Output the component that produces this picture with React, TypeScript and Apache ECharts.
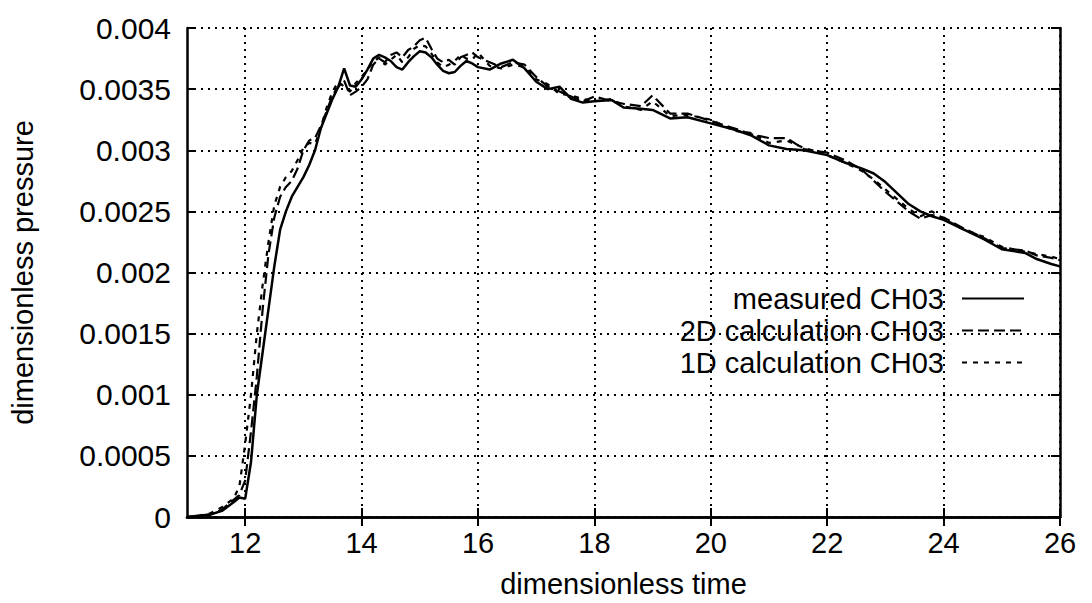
import React, { useEffect, useRef } from "react";
import * as echarts from "echarts";

const times = [
  11.0, 11.2, 11.4, 11.6, 11.8, 11.9, 12.0, 12.1, 12.2, 12.3,
  12.4, 12.5, 12.6, 12.7, 12.8, 12.9, 13.0, 13.1, 13.2, 13.3,
  13.4, 13.5, 13.6, 13.7, 13.8, 13.9, 14.0, 14.1, 14.2, 14.3,
  14.4, 14.5, 14.6, 14.7, 14.8, 14.9, 15.0, 15.1, 15.2, 15.3,
  15.4, 15.5, 15.6, 15.7, 15.8, 15.9, 16.0, 16.2, 16.4, 16.6,
  16.8, 17.0, 17.2, 17.4, 17.6, 17.8, 18.0, 18.3, 18.5, 18.8,
  19.0, 19.3, 19.6, 20.0, 20.4, 20.7, 21.0, 21.3, 21.6, 22.0,
  22.3, 22.6, 22.8, 23.0, 23.2, 23.4, 23.6, 23.8, 24.0, 24.35,
  24.7, 25.0, 25.4, 25.6, 25.85, 26.0,
];

const measured = [
  0, 0.00001, 0.00002, 0.00005, 0.00012, 0.00016, 0.00015, 0.00045, 0.001, 0.00135,
  0.0017, 0.00205, 0.00235, 0.0025, 0.00262, 0.0027, 0.00278, 0.00288, 0.003, 0.00318,
  0.0033, 0.00342, 0.00352, 0.00367, 0.00353, 0.00352, 0.00358, 0.00366, 0.00375, 0.00378,
  0.00376, 0.00373, 0.00368, 0.00366, 0.00372, 0.00377, 0.00381, 0.0038, 0.00376, 0.0037,
  0.00365, 0.00363, 0.00364, 0.00369, 0.00373, 0.00371, 0.00368, 0.00366, 0.00371, 0.00374,
  0.00367, 0.00356, 0.0035, 0.00352, 0.00342, 0.00339, 0.0034, 0.00341, 0.00335, 0.00334,
  0.00333, 0.00326, 0.00327, 0.00322, 0.00317, 0.00312, 0.00304, 0.00301, 0.003, 0.00296,
  0.0029, 0.00285, 0.00281, 0.00274, 0.00265, 0.00256, 0.0025, 0.00246, 0.00243, 0.00235,
  0.00227, 0.00219, 0.00216, 0.00211, 0.00207, 0.00205,
];

const calc2D = [
  0, 0.00001, 0.00002, 0.00006, 0.00014, 0.00018, 0.0003, 0.0007, 0.00115, 0.0017,
  0.00215, 0.00245, 0.00262, 0.0027, 0.00275, 0.00285, 0.003, 0.00308, 0.0031, 0.0032,
  0.00332, 0.00345, 0.00352, 0.00357, 0.00345, 0.00348, 0.00352, 0.00358, 0.0037, 0.00375,
  0.00372, 0.00378, 0.0038, 0.00376, 0.00382, 0.00385, 0.0039, 0.00392, 0.00383, 0.00375,
  0.00372, 0.00374, 0.0037, 0.00376, 0.00378, 0.0038, 0.00376, 0.00372, 0.00368, 0.00372,
  0.0037, 0.0036, 0.00352, 0.00348, 0.00344, 0.0034, 0.00344, 0.0034, 0.00338, 0.00336,
  0.00345, 0.0033, 0.0033, 0.00324, 0.00318, 0.00313, 0.0031, 0.0031, 0.00301, 0.00298,
  0.00292, 0.00284, 0.00275, 0.00266, 0.00258, 0.0025, 0.00244, 0.00247, 0.00245, 0.00236,
  0.00228, 0.0022, 0.00218, 0.00214, 0.00212, 0.0021,
];

const calc1D = [
  0, 0.00001, 0.00003, 0.00008, 0.00015, 0.00025, 0.0006, 0.001, 0.0015, 0.0019,
  0.00225, 0.00255, 0.0027, 0.00278, 0.00283, 0.00292, 0.00302, 0.00306, 0.00305, 0.00318,
  0.00335, 0.00348, 0.00356, 0.00352, 0.00348, 0.00355, 0.0036, 0.00366, 0.00372, 0.00376,
  0.0037, 0.00374, 0.00378, 0.00372, 0.00376, 0.00383, 0.00386, 0.00385, 0.00379, 0.00372,
  0.00368, 0.0037, 0.00373, 0.00378, 0.00375, 0.00374, 0.0038, 0.00369, 0.00367, 0.0037,
  0.00368, 0.00358, 0.00354, 0.00346, 0.00345, 0.00342, 0.0034, 0.00342, 0.00336, 0.00333,
  0.0034, 0.00328, 0.00329, 0.00325, 0.00316, 0.00314, 0.00306, 0.00308, 0.00302, 0.00296,
  0.0029, 0.00283, 0.00276, 0.00268, 0.0026, 0.00252, 0.00246, 0.0025, 0.00244, 0.00235,
  0.00229, 0.00221, 0.00217, 0.00215, 0.00213, 0.00211,
];

const xTicks = [12, 14, 16, 18, 20, 22, 24, 26];
const seriesNames = ["measured CH03", "2D calculation CH03", "1D calculation CH03"];

const FONT = "'Liberation Sans', Arial, Helvetica, sans-serif";

function pairs(vals: number[]) {
  return times.map((t, i) => [t, vals[i]]);
}

export default function App() {
  const ref = useRef<HTMLDivElement>(null);
  useEffect(() => {
    if (!ref.current) return;
    const chart = echarts.init(ref.current, undefined, { renderer: "svg" });
    const grid = { left: 177, right: 32, top: 28, bottom: 78 };
    const dotted = { color: "#000", width: 2, type: [2, 5] as any };
    const xBase = {
      type: "value" as const,
      min: 11,
      max: 26,
      interval: 1,
      axisLine: { show: true, lineStyle: { color: "#000", width: 2.5 } },
    };
    const yBase = {
      type: "value" as const,
      min: 0,
      max: 0.004,
      interval: 0.0005,
      axisLine: { show: true, lineStyle: { color: "#000", width: 2.5 } },
    };
    chart.setOption({
      animation: false,
      backgroundColor: "#fff",
      grid,
      legend: {
        orient: "vertical",
        right: 62,
        top: 279,
        align: "right",
        itemWidth: 62,
        itemHeight: 14,
        itemGap: 3,
        data: seriesNames,
        itemStyle: { opacity: 0, color: "rgba(0,0,0,0)", borderWidth: 0 },
        textStyle: { fontFamily: FONT, fontSize: 29, color: "#000", padding: [0, 13, 0, 0] },
      },
      xAxis: [
        {
          ...xBase,
          position: "bottom",
          name: "dimensionless time",
          nameLocation: "middle",
          nameGap: 52,
          nameTextStyle: { fontFamily: FONT, fontSize: 29, color: "#000" },
          axisTick: { show: true, inside: true, length: 9, customValues: xTicks, lineStyle: { color: "#000", width: 2 } },
          axisLabel: { show: true, customValues: xTicks, margin: 11, fontFamily: FONT, fontSize: 29, color: "#000" },
          splitLine: { show: true, lineStyle: dotted },
        },
        {
          ...xBase,
          position: "top",
          axisTick: { show: true, inside: true, length: 9, customValues: xTicks, lineStyle: { color: "#000", width: 2 } },
          axisLabel: { show: false },
          splitLine: { show: false },
        },
      ],
      yAxis: [
        {
          ...yBase,
          position: "left",
          name: "dimensionless pressure",
          nameLocation: "middle",
          nameGap: 150,
          nameTextStyle: { fontFamily: FONT, fontSize: 29, color: "#000" },
          axisTick: { show: true, inside: true, length: 9, lineStyle: { color: "#000", width: 2 } },
          axisLabel: { show: true, margin: 16, fontFamily: FONT, fontSize: 30, color: "#000" },
          splitLine: { show: true, lineStyle: dotted },
        },
        {
          ...yBase,
          position: "right",
          axisTick: { show: true, inside: true, length: 9, lineStyle: { color: "#000", width: 2 } },
          axisLabel: { show: false },
          splitLine: { show: false },
        },
      ],
      series: [
        {
          name: seriesNames[2],
          type: "line",
          symbol: "none",
          data: pairs(calc1D),
          lineStyle: { color: "#000", width: 2.2, type: [5, 6] },
          itemStyle: { color: "#000" },
          z: 2,
        },
        {
          name: seriesNames[1],
          type: "line",
          symbol: "none",
          data: pairs(calc2D),
          lineStyle: { color: "#000", width: 2.2, type: [11, 5] },
          itemStyle: { color: "#000" },
          z: 3,
        },
        {
          name: seriesNames[0],
          type: "line",
          symbol: "none",
          data: pairs(measured),
          lineStyle: { color: "#000", width: 2.5, type: "solid" },
          itemStyle: { color: "#000" },
          z: 4,
        },
      ],
    });
    return () => chart.dispose();
  }, []);
  return (
    <div
      ref={ref}
      style={{ position: "absolute", left: 0, top: 0, width: 1092, height: 603, background: "#fff" }}
    />
  );
}
